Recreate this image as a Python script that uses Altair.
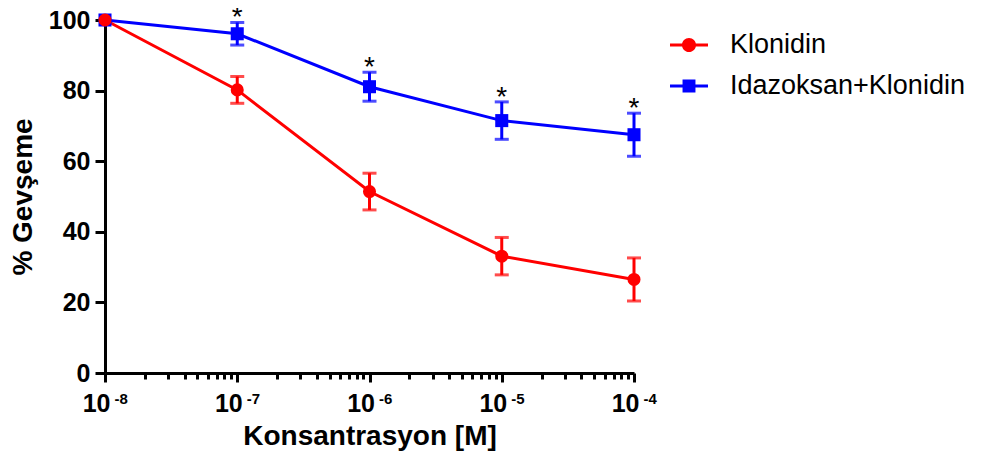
import altair as alt
import pandas as pd

# ---- data ----
conc = [1e-8, 1e-7, 1e-6, 1e-5, 1e-4]
series_names = ["Klonidin", "Idazoksan+Klonidin"]
klon_mean = [100, 80.2, 51.4, 33.1, 26.5]
klon_sem = [0, 3.8, 5.2, 5.3, 6.1]
ida_mean = [100, 96.1, 81.1, 71.5, 67.5]
ida_sem = [0, 3.2, 4.1, 5.3, 6.1]
ida_sig = ["", "*", "*", "*", "*"]
klon_sig = ["", "", "", "", ""]

y_ticks = [0, 20, 40, 60, 80, 100]
major_ticks = [1e-8, 1e-7, 1e-6, 1e-5, 1e-4]
minor_ticks = [m * 10.0 ** e for e in range(-8, -4) for m in range(2, 10)]

colors = ["#ff0000", "#0000ff"]

rows = []
# draw Idazoksan first so the red series sits on top at 10^-8
for name, means, sems, sigs in [
    (series_names[1], ida_mean, ida_sem, ida_sig),
    (series_names[0], klon_mean, klon_sem, klon_sig),
]:
    for c, m, s, g in zip(conc, means, sems, sigs):
        rows.append({"conc": c, "series": name, "mean": m,
                     "lo": m - s, "hi": m + s, "sem": s, "sig": g})
df = pd.DataFrame(rows)

FONT = "Liberation Sans, Arial, Helvetica, sans-serif"

xscale = alt.Scale(type="log", domain=[1e-8, 1e-4], nice=False)
yscale = alt.Scale(domain=[0, 100], nice=False, zero=True)
cscale = alt.Scale(domain=series_names, range=colors)

circle_path = ("M-1,-0.08L-0.3,-0.08L-0.3,0.08L-1,0.08Z "
               "M0.3,-0.08L1,-0.08L1,0.08L0.3,0.08Z "
               "M0.37,0A0.37,0.37 0 1,1 -0.37,0A0.37,0.37 0 1,1 0.37,0Z")
square_path = ("M-1,-0.08L-0.3,-0.08L-0.3,0.08L-1,0.08Z "
               "M0.3,-0.08L1,-0.08L1,0.08L0.3,0.08Z "
               "M-0.34,-0.34L0.34,-0.34L0.34,0.34L-0.34,0.34Z")

base = alt.Chart(df)

x_main_axis = alt.Axis(
    values=major_ticks, labelExpr="'10'", labelAlign="right", labelOffset=5,
    labelFontSize=25, labelFontWeight="bold", labelFont=FONT, labelColor="black",
    labelPadding=9, tickSize=9, tickWidth=3, tickColor="black",
    domainWidth=3, domainColor="black", grid=False, orient="bottom",
    title="Konsantrasyon [M]", titleFontSize=28, titleFontWeight="bold",
    titleFont=FONT, titleColor="black", titlePadding=6,
)
y_axis = alt.Axis(
    values=y_ticks, labelFontSize=25, labelFontWeight="bold", labelFont=FONT,
    labelColor="black", labelPadding=5, tickSize=10, tickWidth=3,
    tickColor="black", domainWidth=3, domainColor="black", grid=False,
    title="% Gevşeme", titleFontSize=28, titleFontWeight="bold",
    titleFont=FONT, titleColor="black", titlePadding=11,
)
x_minor_axis = alt.Axis(
    values=minor_ticks, labels=False, tickSize=6, tickWidth=3,
    tickColor="black", domain=False, grid=False, orient="bottom", title=None,
)
x_exp_axis = alt.Axis(
    values=major_ticks,
    labelExpr="toString(round(log(datum.value) / LN10))",
    labelAlign="left", labelOffset=9, labelFontSize=15, labelFontWeight="bold",
    labelFont=FONT, labelColor="black", labelPadding=18, ticks=False,
    tickSize=0, domain=False, grid=False, orient="bottom", title=None,
)

lines = base.mark_line(strokeWidth=3).encode(
    x=alt.X("conc:Q", scale=xscale, axis=x_main_axis),
    y=alt.Y("mean:Q", scale=yscale, axis=y_axis),
    color=alt.Color("series:N", scale=cscale, legend=None),
    detail="series:N",
)

err_rules = base.transform_filter("datum.sem > 0").mark_rule(strokeWidth=3).encode(
    x=alt.X("conc:Q", scale=xscale, axis=x_minor_axis),
    y=alt.Y("lo:Q", scale=yscale, axis=y_axis),
    y2="hi:Q",
    color=alt.Color("series:N", scale=cscale, legend=None),
)

caps_lo = base.transform_filter("datum.sem > 0").mark_tick(
    orient="horizontal", size=14, thickness=3).encode(
    x=alt.X("conc:Q", scale=xscale, axis=x_exp_axis),
    y=alt.Y("lo:Q", scale=yscale, axis=y_axis),
    color=alt.Color("series:N", scale=cscale, legend=None),
)
caps_hi = base.transform_filter("datum.sem > 0").mark_tick(
    orient="horizontal", size=14, thickness=3).encode(
    x=alt.X("conc:Q", scale=xscale, axis=None),
    y=alt.Y("hi:Q", scale=yscale, axis=y_axis),
    color=alt.Color("series:N", scale=cscale, legend=None),
)

points = base.mark_point(filled=True, opacity=1, size=170).encode(
    x=alt.X("conc:Q", scale=xscale, axis=None),
    y=alt.Y("mean:Q", scale=yscale, axis=y_axis),
    color=alt.Color("series:N", scale=cscale, legend=None),
    shape=alt.Shape("series:N", scale=alt.Scale(domain=series_names,
                                                range=["circle", "square"]),
                    legend=None),
)

stars = base.transform_filter("datum.sig != ''").mark_text(
    fontSize=28, font=FONT, color="black", baseline="alphabetic", dy=4).encode(
    x=alt.X("conc:Q", scale=xscale, axis=None),
    y=alt.Y("hi:Q", scale=yscale, axis=y_axis),
    text="sig:N",
)

legend_props = dict(
    title=None, orient="none", legendX=565, legendY=6,
    labelFontSize=27, labelFont=FONT, labelColor="black", labelLimit=0,
    labelOffset=22, rowPadding=9, symbolSize=1444, symbolStrokeWidth=0,
    symbolOpacity=1,
)

legend_layer = base.transform_filter("false").mark_point(
    filled=True, opacity=1, size=1444).encode(
    x=alt.X("conc:Q", scale=xscale, axis=None),
    y=alt.Y("mean:Q", scale=yscale, axis=y_axis),
    color=alt.Color("series:N", scale=cscale, legend=alt.Legend(**legend_props)),
    shape=alt.Shape("series:N", scale=alt.Scale(domain=series_names,
                                                range=[circle_path, square_path]),
                    legend=alt.Legend(**legend_props)),
)

chart = alt.layer(
    lines, err_rules, caps_lo, caps_hi, points, stars, legend_layer
).resolve_scale(
    color="independent", shape="independent"
).resolve_axis(
    x="independent"
).properties(
    width=529, height=353,
    background="white",
    autosize=alt.AutoSizeParams(type="none"),
    padding={"left": 97, "top": 12, "right": 340, "bottom": 80},
).configure_view(stroke=None)

chart.save("out.html", embed_options={"renderer": "svg", "actions": False})
